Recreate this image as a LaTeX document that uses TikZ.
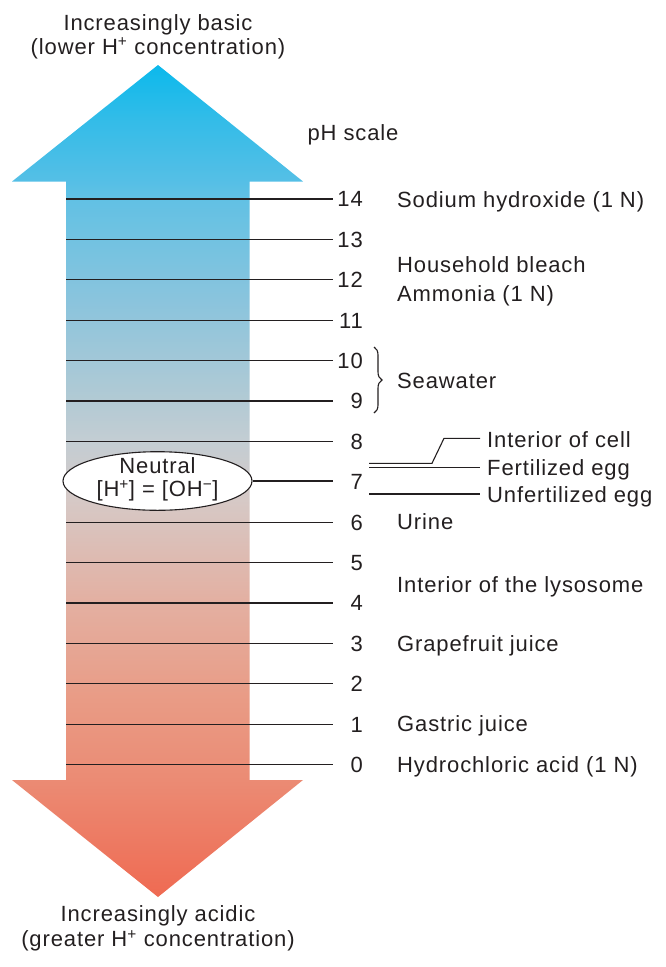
\documentclass[tikz,border=0pt]{standalone}
\usepackage{fontspec}
\setmainfont{Liberation Sans}[LetterSpace=4]
\usetikzlibrary{shapes.geometric,decorations.pathreplacing}
\definecolor{g00}{HTML}{EF6A52}
\definecolor{g01}{HTML}{EB8B74}
\definecolor{g02}{HTML}{E99B85}
\definecolor{g03}{HTML}{E3B0A2}
\definecolor{g04}{HTML}{D6C9C6}
\definecolor{g05}{HTML}{C3CDD3}
\definecolor{g06}{HTML}{B2CAD4}
\definecolor{g07}{HTML}{8AC4DD}
\definecolor{g08}{HTML}{62C1E4}
\definecolor{g09}{HTML}{55BFE6}
\definecolor{g10}{HTML}{33BCE8}
\definecolor{g11}{HTML}{0CB9EC}
\definecolor{ink}{HTML}{231F20}
\pgfdeclareverticalshading{phgrad}{100bp}{color(0bp)=(g00); color(25bp)=(g00); color(32.03bp)=(g01); color(36.84bp)=(g02); color(42.85bp)=(g03); color(48.86bp)=(g04); color(52.46bp)=(g05); color(54.87bp)=(g06); color(60.88bp)=(g07); color(66.89bp)=(g08); color(68.03bp)=(g09); color(71.69bp)=(g10); color(75bp)=(g11); color(100bp)=(g11)}
\begin{document}
\begin{tikzpicture}[x=1pt,y=-1pt,
  txt/.style={font=\fontsize{22}{25}\selectfont, inner sep=0pt, text=ink},
  lbl/.style={txt, anchor=base west},
  num/.style={txt, anchor=base east},
  ctr/.style={txt, anchor=base},
  tickline/.style={line width=1.2pt, draw=ink},
  thinline/.style={line width=1.1pt, draw=ink}]
\useasboundingbox (0,0) rectangle (665,967);
% arrow body
\shade[shading=phgrad] (158,65) -- (303,181.5) -- (249.5,181.5) -- (249.5,780) -- (303,780) -- (158,897) -- (12,780) -- (66,780) -- (66,181.5) -- (12,181.5) -- cycle;
% top / bottom texts
\node[ctr] (basic1) at (158,30) {Increasingly basic};
\node[ctr] (basic2) at (158,54) {(lower H\textsuperscript{+} concentration)};
\node[ctr] (acid1) at (158,921.7) {Increasingly acidic};
\node[ctr] (acid2) at (158,946.7) {(greater H\textsuperscript{+} concentration)};
\node[ctr] (phscale) at (353,140) {pH scale};
% neutral ellipse
\node[ellipse, draw=ink, line width=1.1pt, fill=white, minimum width=189pt, minimum height=58.6pt, inner sep=0pt] (neutral) at (157.5,481) {};
\node[ctr] (neu1) at (157.5,473.3) {Neutral};
\node[ctr] (neu2) at (157.5,496.7) {[H\textsuperscript{+}] = [OH\textsuperscript{−}]};
% ticks and numbers
\foreach \k in {0,...,14}{
  \pgfmathsetmacro{\yy}{199+(14-\k)*40.4}
  \coordinate (ta\k) at (66,\yy);
  \coordinate (tb\k) at (333,\yy);
  \node[num] (n\k) at (363,\yy+7.8) {\k};
}
\foreach \k in {0,1,2,3,4,5,6,8,9,10,11,12,13,14}{
  \draw[tickline] (ta\k) -- (tb\k);
}
\draw[tickline] (neutral.east) -- (neutral.east -| tb7);
% labels
\node[lbl] (naoh) at (397,207) {Sodium hydroxide (1 N)};
\node[lbl] (bleach) at (397,272.5) {Household bleach};
\node[lbl] (ammonia) at (397,301) {Ammonia (1 N)};
\node[lbl] (sea) at (397,388.5) {Seawater};
\node[lbl] (icell) at (487,447) {Interior of cell};
\node[lbl] (fegg) at (487,475.5) {Fertilized egg};
\node[lbl] (uegg) at (487,502) {Unfertilized egg};
\node[lbl] (urine) at (397,529.5) {Urine};
\node[lbl] (lyso) at (397,592.5) {Interior of the lysosome};
\node[lbl] (grape) at (397,651) {Grapefruit juice};
\node[lbl] (gastric) at (397,731.5) {Gastric juice};
\node[lbl] (hcl) at (397,772.5) {Hydrochloric acid (1 N)};
% seawater brace
\coordinate (br1) at (374,347);
\coordinate (br2) at (374,413);
\draw[thinline, decorate, decoration={brace, amplitude=8pt}] (br1) -- (br2);
% cell / egg connectors
\coordinate (ic1) at (369,463.3);
\coordinate (ic2) at (432,463.3);
\coordinate (ic3) at (444,438.3);
\coordinate (ic4) at (480,438.3);
\draw[thinline] (ic1) -- (ic2) -- (ic3) -- (ic4);
\coordinate (fe1) at (369,467.7);
\coordinate (fe2) at (480,467.7);
\draw[thinline] (fe1) -- (fe2);
\coordinate (ue1) at (369,494);
\coordinate (ue2) at (480,494);
\draw[thinline] (ue1) -- (ue2);
\end{tikzpicture}
\end{document}
